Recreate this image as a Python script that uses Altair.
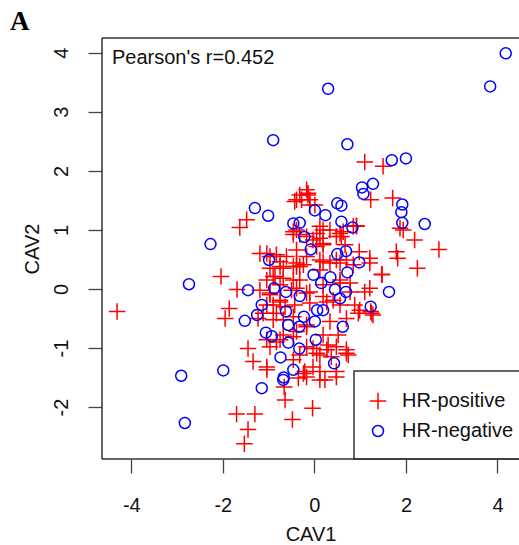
import altair as alt
import pandas as pd

groups = ["HR-positive", "HR-negative"]
x_ticks = [-4, -2, 0, 2, 4]
y_ticks = [-2, -1, 0, 1, 2, 3, 4]
x_domain = [-4.64, 4.47]
y_domain = [-2.88, 4.25]

pos_x = [-4.31, -1.63, -1.48, -2.04, -1.69, -1.86, -1.95, -1.45, -1.34, -1.70, -1.30, -1.45, -1.53,
         -1.04, -0.66, -0.64, -0.48, -0.04, 0.12, 0.23, -0.17, -0.35, 0.48, -0.21, 1.10, 1.50, 1.71,
         1.23, 1.94, 2.19, 2.72, 1.82, 2.25, 1.48, 1.21, 0.98, 1.23, 0.99, 0.85, 0.56, 0.34, -0.14,
         -0.43, -0.28, -0.10, -0.17, -1.19, -0.39, 0.01, 0.92, 0.19, 0.05, -0.39, -0.46, -0.17, 0.12,
         0.19, 0.05, -0.39, 0.59, 0.67, 1.87, 1.79, -0.39, -0.24, 0.19, 0.48, 0.85, 1.21, 1.47,
         0.19, 0.56, 0.78, 1.10, 1.21, -0.10, -0.39, -0.43, -0.10, 0.27, 0.56, 0.88, 1.25, 0.96,
         0.70, 0.34, -0.17, -0.39, 0.19, 0.52, 0.30, 0.70, -0.03, -0.32, 0.12, 0.37, 0.74, -0.97,
         -0.86, -0.68, -0.75, -0.97, -1.04, -0.90, -0.75, -0.64, -1.12, -0.83, -1.23, -0.68, -1.04,
         -0.83, -0.97, -0.68, -0.97, -0.75, -1.04, -0.83, -0.61, -0.46, -0.75, -0.39, -0.90, -0.68,
         -0.46, -1.04, -1.19, -0.97, -0.75, -0.50, -0.90, -0.46, -0.17, -0.46, -0.75, -0.17, 0.05,
         0.27, 0.48, 0.70, -0.46, -0.03, -0.24, 0.12, -1.04, 0.48, 1.28, -0.32, -0.14, -0.10, 0.12,
         0.63, 0.92, -0.46, -0.32, -0.03, 0.19, 0.48, 0.12, 0.34, 0.56, 0.70, 0.12, -0.32, -0.17,
         0.56, 0.78, 0.41, 0.19, -0.17, -0.32]
pos_y = [-0.38, 1.04, 1.17, 0.21, -0.01, -0.33, -0.50, -1.01, -1.23, -2.12, -2.12, -2.38, -2.62,
         -1.37, -1.66, -1.88, -2.21, -2.02, -1.54, -1.54, -1.49, -1.51, -1.40, -1.40, 2.15, 2.08, 1.54,
         1.51, 1.00, 0.83, 0.67, 0.52, 0.35, 0.25, 0.44, 0.63, -0.38, -0.36, 1.06, 0.94, 1.00, 1.59,
         1.48, 1.51, 1.42, 1.68, 0.60, 1.51, 1.42, 1.07, 1.00, 0.94, 1.00, 0.92, 0.89, 0.86,
         0.75, 0.72, 0.66, 0.89, 0.75, 1.03, 0.63, 0.38, 0.41, 0.46, 0.49, 0.41, 0.52, 0.24,
         0.07, 0.10, -0.05, -0.05, 0.01, -0.05, 0.01, -0.27, -0.24, -0.22, -0.27, -0.27, -0.41, -0.41,
         -0.50, -0.55, -0.61, -0.72, -0.78, -0.78, -0.95, -1.03, -1.01, -1.12, -1.12, -1.15, -1.12, 0.35,
         0.21, 0.35, 0.07, -0.10, -0.27, -0.27, -0.22, -0.30, -0.41, -0.41, -0.50, -0.52, -0.86,
         -0.90, -0.98, -0.78, 0.55, 0.46, 0.60, 0.58, 0.55, 0.38, 0.38, 0.44, 0.21, 0.18,
         0.15, 0.15, -0.02, -0.07, -0.19, -0.02, -0.52, -0.47, -0.64, -0.81, -0.86, -0.98, -1.09,
         -1.03, -0.98, -1.09, -1.20, -1.32, -1.43, -1.40, -1.32, -1.49, -0.44, 1.59, 1.62, 1.51, 1.06,
         0.97, 1.06, 0.97, 0.92, 0.83, 0.77, 0.89, 0.49, 0.44, 0.44, 0.49, 0.32, 0.38, 0.55,
         0.15, 0.10, -0.19, -0.13, -0.07, 0.15]

neg_x = [4.18, 3.84, 0.30, -0.90, 0.72, 1.69, 2.00, 1.04, 1.28, 1.07, 1.92, 1.90, 1.92, 2.41,
         -1.01, -1.30, -2.27, -2.74, -1.45, -1.52, -2.91, -1.99, -2.83, -1.15, -0.68, 0.01, 0.24,
         0.50, 0.59, -0.46, -0.32, 0.59, 0.83, -0.22, -0.08, 0.50, 0.69, 0.98, -0.99, -0.02, 0.35,
         0.15, 0.72, -0.88, -0.32, 0.45, 0.69, 1.63, 1.23, -1.15, -0.62, 0.19, 0.06, -0.23, 0.01,
         -0.57, -0.33, 0.62, -1.06, -0.93, -0.57, 0.03, -0.33, -0.74, 0.43, -0.46, -0.67, -1.25,
         -0.62, 0.56]
neg_y = [3.99, 3.43, 3.39, 2.52, 2.45, 2.18, 2.21, 1.72, 1.78, 1.61, 1.43, 1.30, 1.12, 1.10,
         1.24, 1.37, 0.76, 0.08, -0.02, -0.54, -1.47, -1.38, -2.27, -1.68, -1.54, 1.33, 1.25,
         1.45, 1.41, 1.11, 1.12, 1.14, 1.04, 0.88, 0.67, 0.59, 0.64, 0.45, 0.49, 0.24, 0.20,
         0.10, 0.28, 0.01, -0.12, -0.01, -0.05, -0.05, -0.30, -0.27, -0.38, -0.36, -0.36, -0.47, -0.55,
         -0.61, -0.64, -0.64, -0.74, -0.80, -0.91, -0.86, -1.01, -1.16, -1.26, -1.37, -1.50, -0.44,
         -0.05, -0.16]

df = pd.DataFrame({
    "CAV1": pos_x + neg_x,
    "CAV2": pos_y + neg_y,
    "group": [groups[0]] * len(pos_x) + [groups[1]] * len(neg_x),
})

W, H = 417, 421
FONT = "Liberation Sans"
FS = 20
cross = "M-1,0H1M0,-1V1"
dummy = pd.DataFrame({"d": [0]})
hyphen_labels = "datum.value < 0 ? '-' + abs(datum.value) : '' + datum.value"

points = alt.Chart(df).mark_point(filled=False, strokeWidth=1.5, opacity=1).encode(
    x=alt.X("CAV1:Q", scale=alt.Scale(domain=x_domain, nice=False, zero=False),
            axis=alt.Axis(values=x_ticks, title="CAV1", titleY=81, titleBaseline="alphabetic",
                          labelPadding=38, labelBaseline="alphabetic", labelFlush=False,
                          labelExpr=hyphen_labels)),
    y=alt.Y("CAV2:Q", scale=alt.Scale(domain=y_domain, nice=False, zero=False),
            axis=alt.Axis(values=y_ticks, title="CAV2", titleX=-64, titleY=H / 2, titleAngle=270,
                          titleAlign="center", titleBaseline="alphabetic",
                          labelAngle=270, labelAlign="center", labelBaseline="alphabetic",
                          labelPadding=21, labelFlush=False, labelExpr=hyphen_labels)),
    color=alt.Color("group:N", scale=alt.Scale(domain=groups, range=["#ff0000", "#0000ff"]),
                    legend=alt.Legend(title=None, orient="none", legendX=266, legendY=353,
                                      padding=0, rowPadding=8, labelOffset=14,
                                      labelFontSize=FS, labelFont=FONT, labelColor="#111111",
                                      symbolStrokeWidth=1.5)),
    shape=alt.Shape("group:N", scale=alt.Scale(domain=groups, range=[cross, "circle"])),
    size=alt.Size("group:N", scale=alt.Scale(domain=groups, range=[272, 121])),
)

frame_col = "#333333"
top = alt.Chart(dummy).mark_rule(color=frame_col, strokeWidth=1.5).encode(
    x=alt.value(0), x2=alt.value(W), y=alt.value(0))
left = alt.Chart(dummy).mark_rule(color=frame_col, strokeWidth=1.5).encode(
    x=alt.value(0), y=alt.value(0), y2=alt.value(H))
bottom = alt.Chart(dummy).mark_rule(color=frame_col, strokeWidth=1.5).encode(
    x=alt.value(0), x2=alt.value(W), y=alt.value(H))

legend_box = alt.Chart(dummy).mark_rect(fill="white", stroke=frame_col, strokeWidth=1.5).encode(
    x=alt.value(252), x2=alt.value(W + 20), y=alt.value(333), y2=alt.value(H))

pearson = alt.Chart(dummy).mark_text(align="left", baseline="alphabetic", fontSize=FS,
                                     font=FONT, color="#111111").encode(
    x=alt.value(10), y=alt.value(26), text=alt.value("Pearson's r=0.452"))

panel = alt.Chart(dummy).mark_text(align="left", baseline="alphabetic", fontSize=27,
                                   font="Liberation Serif", fontWeight="bold",
                                   color="#000000").encode(
    x=alt.value(-92), y=alt.value(-8), text=alt.value("A"))

chart = alt.layer(legend_box, points, top, left, bottom, pearson, panel).properties(
    width=W, height=H,
    autosize=alt.AutoSizeParams(type="none"),
    padding={"left": 102, "top": 38, "right": 0, "bottom": 86},
).configure_view(stroke=None).configure_axis(
    domain=False, grid=False, tickColor="#444444", tickWidth=1.3, tickSize=14,
    labelFontSize=FS, labelFont=FONT, labelColor="#111111",
    titleFontSize=FS, titleFont=FONT, titleColor="#111111", titleFontWeight="normal",
)

chart.save("out.html", embed_options={"renderer": "svg", "actions": False})
